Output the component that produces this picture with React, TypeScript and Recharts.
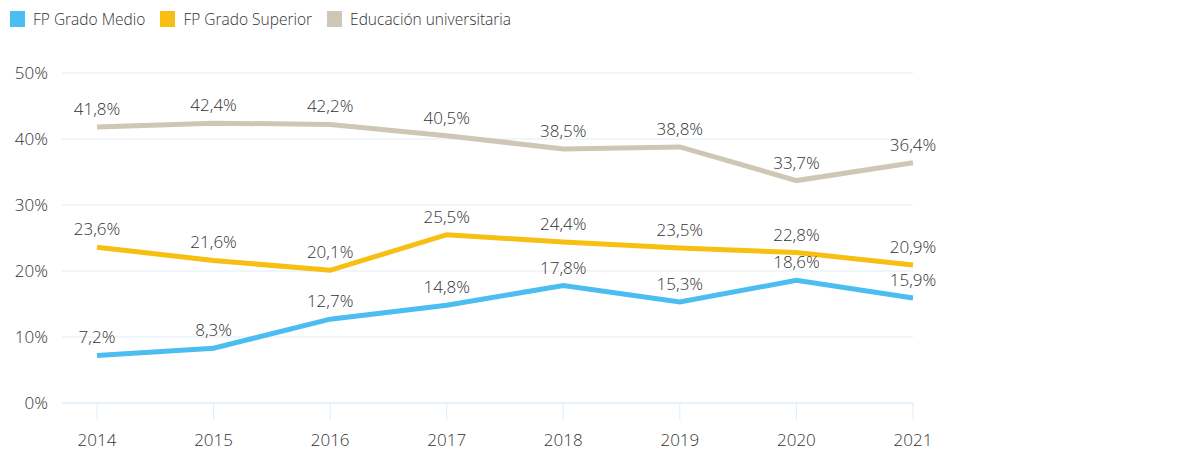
import React from "react";
import { LineChart, Line, XAxis, YAxis, CartesianGrid, LabelList } from "recharts";

const years = ["2014", "2015", "2016", "2017", "2018", "2019", "2020", "2021"];
const fpMedio = [7.2, 8.3, 12.7, 14.8, 17.8, 15.3, 18.6, 15.9];
const fpSuperior = [23.6, 21.6, 20.1, 25.5, 24.4, 23.5, 22.8, 20.9];
const universitaria = [41.8, 42.4, 42.2, 40.5, 38.5, 38.8, 33.7, 36.4];
const yTicks = [0, 10, 20, 30, 40, 50];

const series = [
  { key: "medio", name: "FP Grado Medio", color: "#4bbdf0", values: fpMedio },
  { key: "superior", name: "FP Grado Superior", color: "#f6bf12", values: fpSuperior },
  { key: "univ", name: "Educación universitaria", color: "#cfc7b6", values: universitaria },
];

const data = years.map((y, i) => {
  const row: any = { year: y };
  series.forEach((s) => (row[s.key] = s.values[i]));
  return row;
});

const FONT = "'Open Sans', 'Noto Sans', sans-serif";
const TEXT = "#333333";
const GRID = "#dfedf8";

const fmt = (v: any) => String(v).replace(".", ",") + "%";

export default function App() {
  return (
    <div style={{ position: "absolute", left: 0, top: 0, width: 1180, height: 456, fontFamily: FONT, background: "#fff" }}>
      <div style={{ position: "absolute", left: 10, top: 8, display: "flex", alignItems: "center", fontSize: 15.5, fontWeight: 300, color: TEXT }}>
        {series.map((s) => (
          <div key={s.key} style={{ display: "flex", alignItems: "center", marginRight: 15 }}>
            <div style={{ width: 15, height: 16, background: s.color, marginRight: 8 }} />
            <span>{s.name}</span>
          </div>
        ))}
      </div>
      <LineChart width={1180} height={456} data={data} margin={{ top: 73, right: 267, bottom: 0, left: 0 }}>
        <CartesianGrid vertical={false} stroke={GRID} strokeWidth={1} />
        <XAxis
          dataKey="year"
          height={53}
          padding={{ left: 35, right: 0 }}
          axisLine={{ stroke: GRID }}
          tickLine={{ stroke: GRID }}
          tickSize={17}
          tickMargin={14}
          tick={{ fill: TEXT, fontSize: 17, fontFamily: FONT, fontWeight: 300 }}
        />
        <YAxis
          width={62}
          domain={[0, 50]}
          ticks={yTicks}
          axisLine={false}
          tickLine={false}
          tickMargin={8}
          tickFormatter={(v) => v + "%"}
          tick={{ fill: TEXT, fontSize: 17, fontFamily: FONT, fontWeight: 300 }}
        />
        {series.map((s) => (
          <Line
            key={s.key}
            dataKey={s.key}
            name={s.name}
            type="linear"
            stroke={s.color}
            strokeWidth={5}
            dot={false}
            activeDot={false}
            isAnimationActive={false}
          >
            <LabelList
              dataKey={s.key}
              position="top"
              offset={12}
              formatter={fmt}
              style={{ fill: TEXT, fontSize: 17, fontFamily: FONT, fontWeight: 300 }}
            />
          </Line>
        ))}
      </LineChart>
    </div>
  );
}
